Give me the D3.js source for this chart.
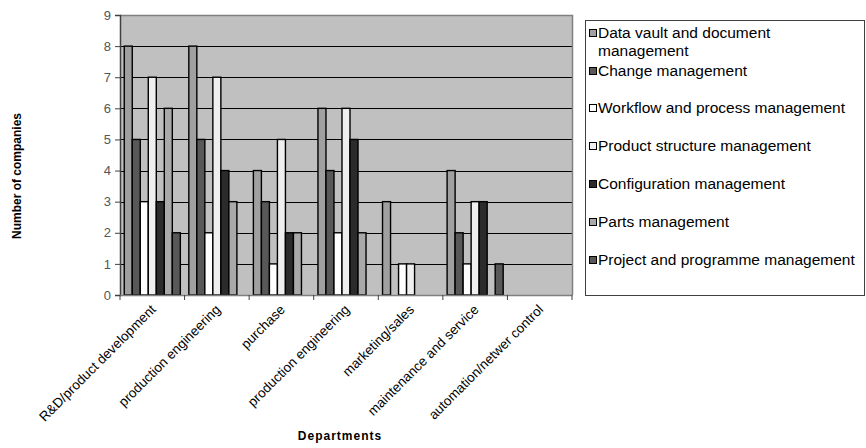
<!DOCTYPE html>
<html>
<head>
<meta charset="utf-8">
<script src="https://cdn.jsdelivr.net/npm/d3@7/dist/d3.min.js"></script>
<style>
  html, body { margin: 0; padding: 0; background: #fff; }
  svg { display: block; font-family: "Liberation Sans", Arial, sans-serif; }
</style>
</head>
<body>
<svg id="chart" width="866" height="448"></svg>
<script>
// Departments along the x axis
const departments = [
  "R&D/product development",
  "production engineering",
  "purchase",
  "production engineering",
  "marketing/sales",
  "maintenance and service",
  "automation/netwer control"
];

// PDM functions (series)
const seriesNames = [
  "Data vault and document management",
  "Change management",
  "Workflow and process management",
  "Product structure management",
  "Configuration management",
  "Parts management",
  "Project and programme management"
];

const seriesColors = ["#a0a0a0", "#585858", "#ffffff", "#efefef", "#2b2b2b", "#a9a9a9", "#585858"];

// Number of companies per department, one array per series
const dataVault     = [8, 8, 4, 6, 3, 4, 0];
const changeMgmt    = [5, 5, 3, 4, 0, 2, 0];
const workflow      = [3, 2, 1, 2, 1, 1, 0];
const productStruct = [7, 7, 5, 6, 1, 3, 0];
const configuration = [3, 4, 2, 5, 0, 3, 0];
const parts         = [6, 3, 2, 2, 0, 0, 0];
const project       = [2, 0, 0, 0, 0, 1, 0];

const seriesValues = [dataVault, changeMgmt, workflow, productStruct, configuration, parts, project];

const yTicks = [0, 1, 2, 3, 4, 5, 6, 7, 8, 9];

const svg = d3.select("#chart");

const plot = { left: 120, right: 572, top: 15, bottom: 295 };

const x0 = d3.scaleBand()
  .domain(d3.range(departments.length))
  .range([plot.left, plot.right])
  .paddingInner(0).paddingOuter(0);

const x1 = d3.scaleBand()
  .domain(d3.range(seriesNames.length))
  .range([0, x0.bandwidth()])
  .paddingInner(0)
  .paddingOuter(0.53);

const y = d3.scaleLinear().domain([0, 9]).range([plot.bottom, plot.top]);

// plot area background
svg.append("rect")
  .attr("x", plot.left).attr("y", plot.top)
  .attr("width", plot.right - plot.left).attr("height", plot.bottom - plot.top)
  .attr("fill", "#c0c0c0");

// horizontal gridlines
svg.append("g")
  .selectAll("line")
  .data(yTicks.filter(d => d > 0 && d < 9))
  .join("line")
  .attr("x1", plot.left).attr("x2", plot.right)
  .attr("y1", d => Math.round(y(d)) + 0.5).attr("y2", d => Math.round(y(d)) + 0.5)
  .attr("stroke", "#000").attr("stroke-width", 1);

// plot area border (top and right)
svg.append("path")
  .attr("d", `M${plot.left},${plot.top + 0.5}H${plot.right + 0.5}V${plot.bottom}`)
  .attr("fill", "none").attr("stroke", "#808080").attr("stroke-width", 1.5);

// bars
const groups = svg.append("g")
  .selectAll("g")
  .data(departments.map((d, i) => i))
  .join("g")
  .attr("transform", i => `translate(${x0(i)},0)`);

groups.selectAll("rect")
  .data(i => seriesValues.map((vals, s) => ({ s, v: vals[i] })).filter(d => d.v > 0))
  .join("rect")
  .attr("x", d => x1(d.s))
  .attr("y", d => y(d.v))
  .attr("width", x1.bandwidth())
  .attr("height", d => y(0) - y(d.v))
  .attr("fill", d => seriesColors[d.s])
  .attr("stroke", "#000")
  .attr("stroke-width", 1.4);

// y axis
const yAxis = d3.axisLeft(y).tickValues(yTicks).tickSize(5).tickPadding(4).tickFormat(d3.format("d"));
const gy = svg.append("g").attr("transform", `translate(${plot.left},0)`).call(yAxis);
gy.attr("font-family", null);
gy.select(".domain").attr("stroke", "#404040").attr("stroke-width", 1.5);
gy.selectAll(".tick line").attr("stroke", "#404040");
gy.selectAll(".tick text").attr("fill", "#555").style("font-size", "13px");

// x axis: ticks between categories
const gx = svg.append("g");
gx.append("line")
  .attr("x1", plot.left).attr("x2", plot.right + 0.5)
  .attr("y1", plot.bottom + 0.5).attr("y2", plot.bottom + 0.5)
  .attr("stroke", "#808080").attr("stroke-width", 1.5);
gx.selectAll("line.tk")
  .data(d3.range(departments.length + 1))
  .join("line")
  .attr("class", "tk")
  .attr("x1", i => i < departments.length ? x0(i) : plot.right)
  .attr("x2", i => i < departments.length ? x0(i) : plot.right)
  .attr("y1", plot.bottom).attr("y2", plot.bottom + 5)
  .attr("stroke", "#404040");

gx.selectAll("text")
  .data(departments)
  .join("text")
  .attr("transform", (d, i) => `translate(${x0(i) + x0.bandwidth() / 2 + 1},${plot.bottom + 12}) rotate(-45)`)
  .attr("text-anchor", "end")
  .attr("dy", "0.35em")
  .style("font-size", "13.5px")
  .attr("fill", "#000")
  .text(d => d);

// axis titles
svg.append("text")
  .attr("x", 340).attr("y", 440)
  .attr("text-anchor", "middle")
  .style("font-size", "12px").style("font-weight", "bold")
  .style("letter-spacing", "1px")
  .text("Departments");

svg.append("text")
  .attr("transform", "translate(21,176) rotate(-90)")
  .attr("text-anchor", "middle")
  .style("font-size", "12px").style("font-weight", "bold")
  .text("Number of companies");

// legend
const legend = svg.append("g");
legend.append("rect")
  .attr("x", 585.5).attr("y", 20.5).attr("width", 279).attr("height", 275)
  .attr("fill", "#fff").attr("stroke", "#404040").attr("stroke-width", 1);

const legendY = [33, 71, 108, 146, 184, 222, 260];
const items = legend.selectAll("g.item")
  .data(seriesNames)
  .join("g")
  .attr("class", "item")
  .attr("transform", (d, i) => `translate(589,${legendY[i]})`);

items.append("rect")
  .attr("x", 0.5).attr("y", -3.5).attr("width", 7).attr("height", 7)
  .attr("fill", (d, i) => seriesColors[i])
  .attr("stroke", "#000").attr("stroke-width", 1);

items.append("text")
  .attr("x", 9).attr("y", 0).attr("dy", "0.35em")
  .style("font-size", "15.5px")
  .attr("fill", "#000")
  .each(function(d, i) {
    const t = d3.select(this);
    if (i === 0) {
      t.append("tspan").attr("x", 9).text("Data vault and document");
      t.append("tspan").attr("x", 9).attr("dy", "1.15em").text("management");
    } else {
      t.text(d);
    }
  });
</script>
</body>
</html>
